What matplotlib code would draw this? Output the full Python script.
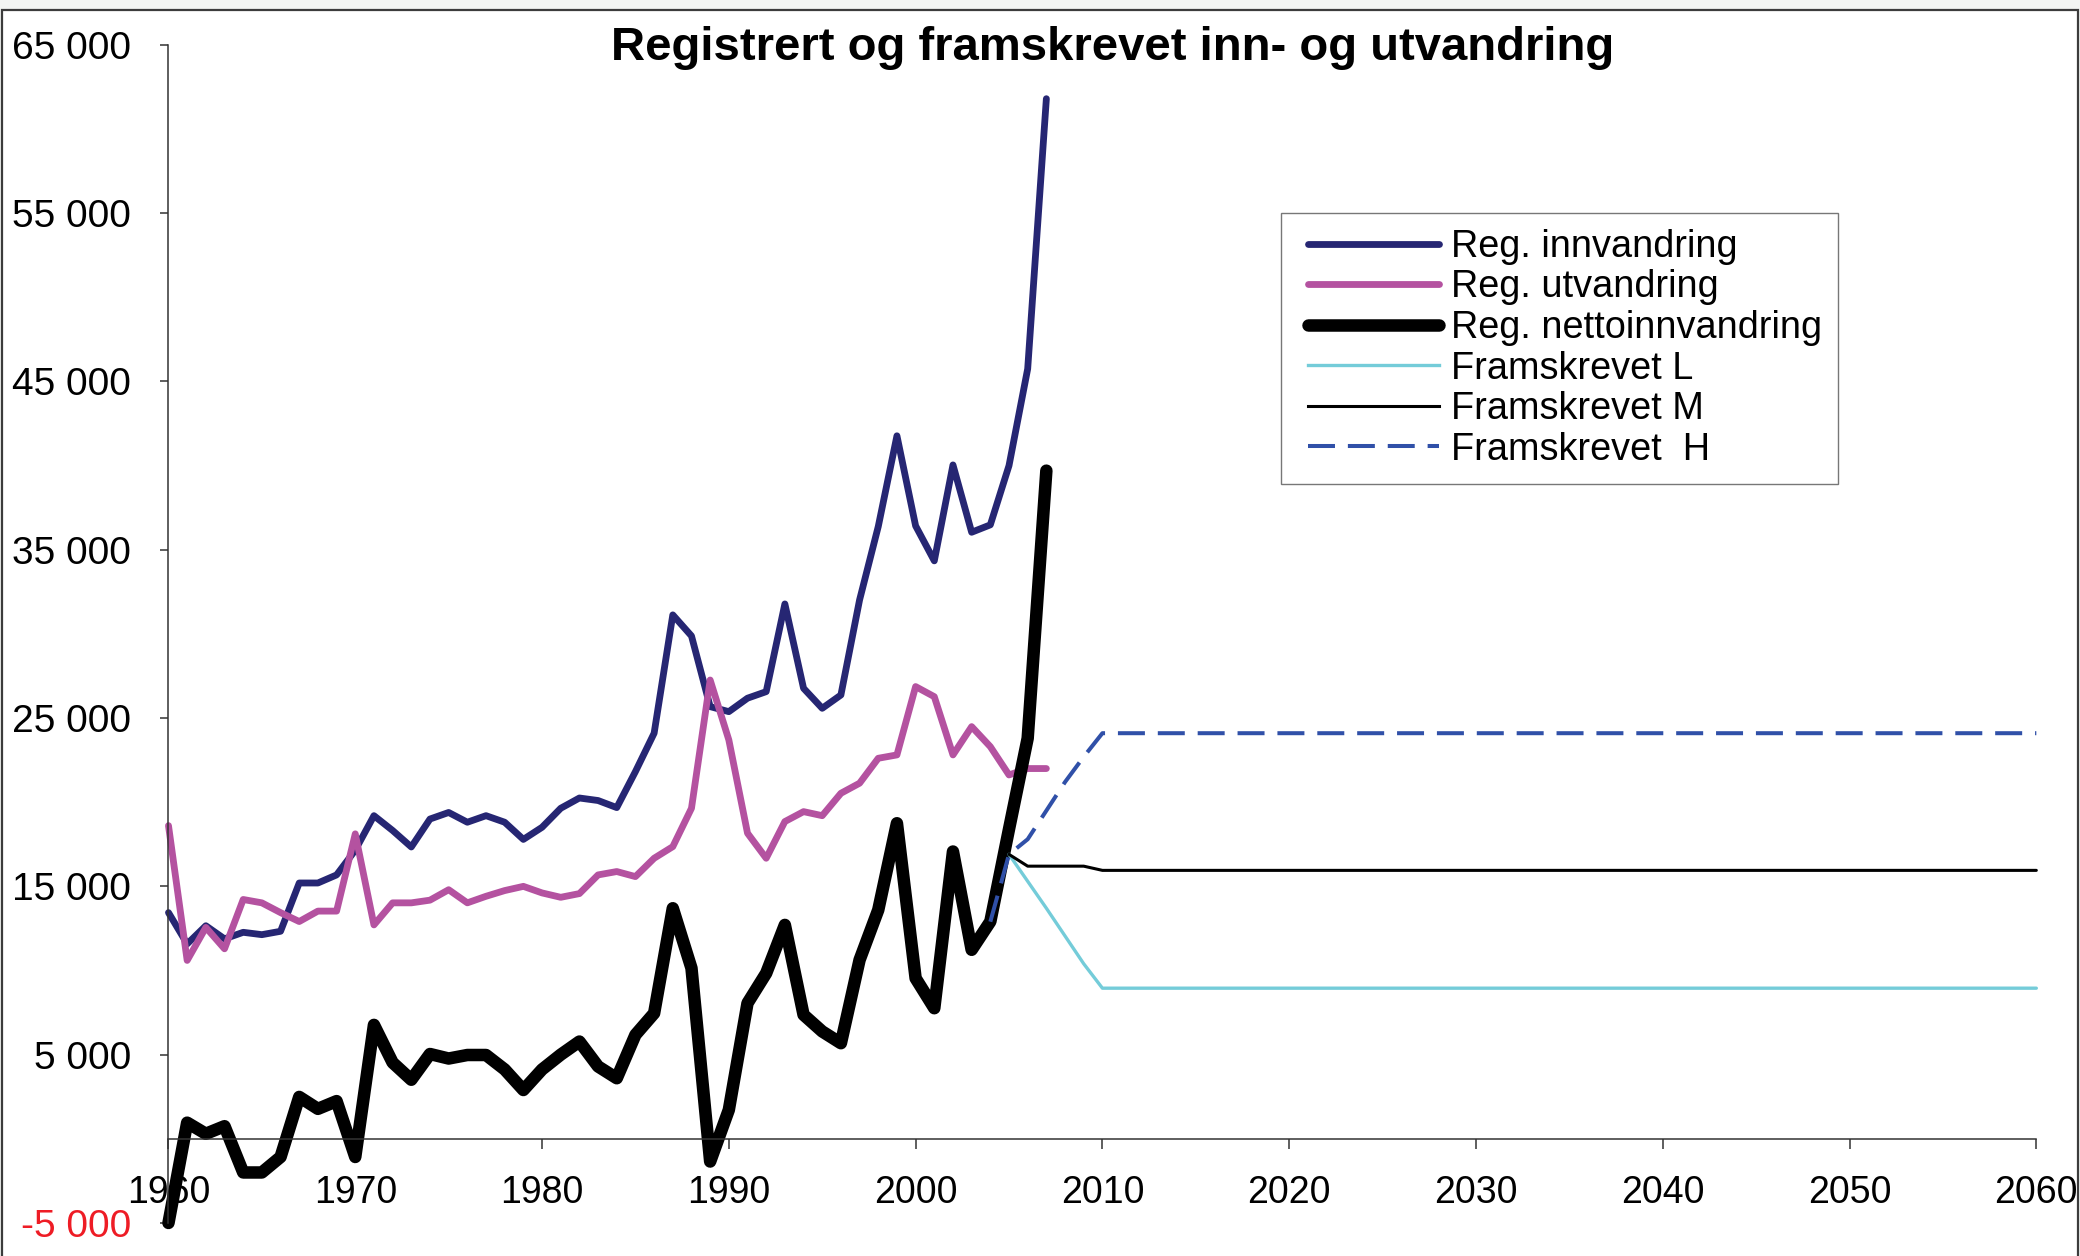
import matplotlib
matplotlib.use("Agg")
import matplotlib.pyplot as plt
from matplotlib.patches import Rectangle
from matplotlib.lines import Line2D
from matplotlib.legend_handler import HandlerLine2D

# registered figures, 1960-2007
reg_years = list(range(1960, 2008))
innvandring = [13440, 11580, 12660, 11880, 12270, 12130, 12330, 15200, 15200, 15680,
               17150, 19200, 18320, 17340, 19000, 19390, 18810, 19200, 18810, 17790,
               18510, 19640, 20250, 20100, 19680, 21820, 24100, 31130, 29880, 25680,
               25380, 26180, 26570, 31780, 26770, 25580, 26370, 32020, 36380, 41770,
               36420, 34340, 40040, 36040, 36480, 40000, 45750, 61800]
utvandring = [18610, 10600, 12560, 11290, 14220, 14020, 13440, 12910, 13530, 13530,
              18120, 12710, 14020, 14020, 14180, 14800, 14020, 14410, 14750, 15000,
              14610, 14350, 14570, 15680, 15880, 15580, 16670, 17360, 19640, 27260,
              23700, 18160, 16670, 18850, 19440, 19200, 20530, 21130, 22610, 22810,
              26870, 26270, 22810, 24490, 23300, 21620, 22000, 22000]
netto = [-5000, 960, 300, 750, -2000, -2000, -1080, 2490, 1780, 2240,
         -1080, 6770, 4530, 3510, 5040, 4770, 4980, 4980, 4120, 2900,
         4120, 5000, 5780, 4300, 3600, 6180, 7460, 13700, 10140, -1350,
         1720, 8060, 9840, 12710, 7370, 6380, 5680, 10630, 13600, 18750,
         9540, 7760, 17070, 11230, 12910, 18400, 23800, 39700]

# projections (flat after 2010)
proj_years = [2005, 2006, 2007, 2008, 2009, 2010, 2060]
proj_L = [16900, 15300, 13700, 12050, 10400, 8950, 8950]
proj_M = [16900, 16200, 16200, 16200, 16200, 15950, 15950]
proj_H_years = [2004, 2005, 2006, 2007, 2008, 2009, 2010, 2060]
proj_H = [12900, 16900, 17800, 19500, 21200, 22700, 24100, 24100]

labels = ["Reg. innvandring", "Reg. utvandring", "Reg. nettoinnvandring",
          "Framskrevet L", "Framskrevet M", "Framskrevet  H"]
y_ticks = [-5000, 5000, 15000, 25000, 35000, 45000, 55000, 65000]
x_ticks = list(range(1960, 2061, 10))

plt.rcParams['font.family'] = ['Liberation Sans', 'DejaVu Sans']

fig = plt.figure(figsize=(20.8, 12.56), dpi=100)
fig.patch.set_facecolor('#f3f5f3')
# chart area box like the spreadsheet one
fig.patches.append(Rectangle((0.001, -0.02), 0.998, 1.0 - 10/1256 + 0.02,
                             transform=fig.transFigure, facecolor='white',
                             edgecolor='#3c3c3c', linewidth=1.6, zorder=-10))

ax = fig.add_axes([0.081, 0.0263, 0.898, 0.938])
ax.set_facecolor('none')

navy = '#262673'
pink = '#b452a0'
cyan = '#74ccd9'
dblue = '#3050a8'

kw = dict(solid_joinstyle='round', solid_capstyle='round', clip_on=False)
ax.plot(reg_years, innvandring, color=navy, lw=4.9, **kw)
ax.plot(reg_years, utvandring, color=pink, lw=4.9, **kw)
ax.plot(reg_years, netto, color='black', lw=9, **kw)
ax.plot(proj_years, proj_L, color=cyan, lw=2.4, **kw)
ax.plot(proj_years, proj_M, color='black', lw=2.2, **kw)
ax.plot(proj_H_years, proj_H, color=dblue, lw=2.9, dashes=(6.7, 3.2), clip_on=False)

ax.set_xlim(1960, 2060)
ax.set_ylim(-5000, 65000)

ax.spines['top'].set_visible(False)
ax.spines['right'].set_visible(False)
ax.spines['bottom'].set_position(('data', 0))
ax.spines['left'].set_color('#333333')
ax.spines['bottom'].set_color('#333333')
ax.spines['left'].set_linewidth(1.1)
ax.spines['bottom'].set_linewidth(1.1)

ax.set_yticks(y_ticks, [f"{v:,}".replace(",", " ") for v in y_ticks])
ax.set_xticks(x_ticks, [str(x) for x in x_ticks])
ax.tick_params(axis='y', direction='out', length=6, width=1.1, pad=21,
               labelsize=28, color='#333333')
ax.tick_params(axis='x', direction='out', length=7, width=1.1, pad=19,
               labelsize=27, color='#333333')
ax.get_yticklabels()[0].set_color('#ee1c25')

fig.text(0.535, 0.962, "Registrert og framskrevet inn- og utvandring",
         ha='center', va='center', fontsize=34, fontweight='bold')

handles = [
    Line2D([], [], color=navy, lw=4.9, solid_capstyle='round'),
    Line2D([], [], color=pink, lw=4.9, solid_capstyle='round'),
    Line2D([], [], color='black', lw=9, solid_capstyle='round'),
    Line2D([], [], color=cyan, lw=2.4),
    Line2D([], [], color='black', lw=2.2),
    Line2D([], [], color=dblue, lw=2.9, dashes=(6.7, 3.2)),
]
leg = fig.legend(handles, labels, loc='upper left',
                 bbox_to_anchor=(1281/2080, 1 - 213/1256),
                 fontsize=27.3, frameon=True, fancybox=False,
                 handlelength=3.76, handletextpad=0.31, labelspacing=0.12,
                 borderpad=0.42, borderaxespad=0,
                 handler_map={Line2D: HandlerLine2D(xpad=0.3)})
leg.get_frame().set_edgecolor('#555555')
leg.get_frame().set_linewidth(1.0)

fig.savefig("out.png", dpi=100, facecolor=fig.get_facecolor())
